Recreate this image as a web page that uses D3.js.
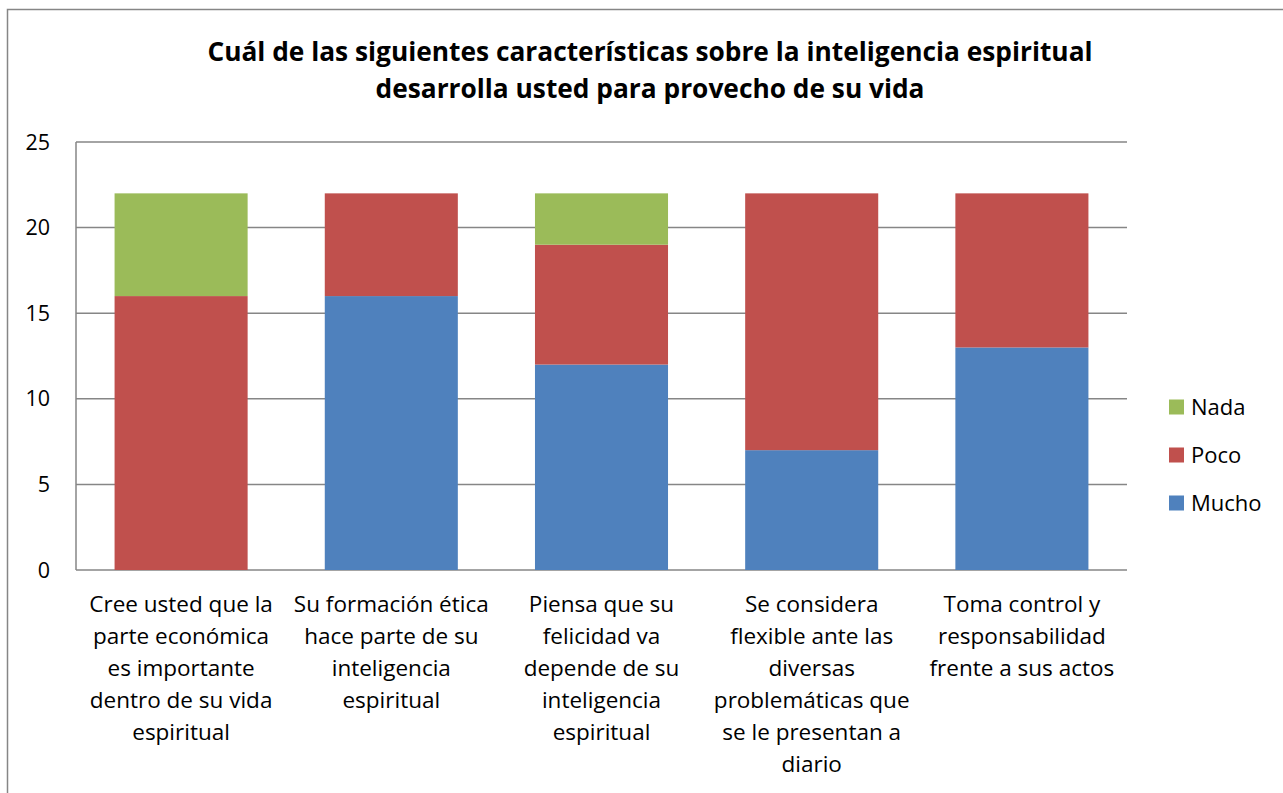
<!DOCTYPE html>
<html>
<head>
<meta charset="utf-8">
<script src="https://cdn.jsdelivr.net/npm/d3@7"></script>
<style>
  body { margin: 0; background: #fff; }
  svg { font-family: 'Open Sans', Lato, sans-serif; }
</style>
</head>
<body>
<svg width="1283" height="793"></svg>
<script>
const categories = [
  ['Cree usted que la', 'parte económica', 'es importante', 'dentro de su vida', 'espiritual'],
  ['Su formación ética', 'hace parte de su', 'inteligencia', 'espiritual'],
  ['Piensa que su', 'felicidad va', 'depende de su', 'inteligencia', 'espiritual'],
  ['Se considera', 'flexible ante las', 'diversas', 'problemáticas que', 'se le presentan a', 'diario'],
  ['Toma control y', 'responsabilidad', 'frente a sus actos']
];
const seriesNames = ['Mucho', 'Poco', 'Nada'];
const mucho = [0, 16, 12, 7, 13];
const poco = [16, 6, 7, 15, 9];
const nada = [6, 0, 3, 0, 0];
const yTicks = [0, 5, 10, 15, 20, 25];
const colors = ['#4f81bd', '#c0504d', '#9bbb59'];

const svg = d3.select('svg');
const pad = { left: 76, right: 156, top: 142, bottom: 223 };
const W = 1283, H = 793;
const fs = 22.5;

// outer frame (runs off the right/bottom edges)
svg.append('rect')
  .attr('x', 7.5).attr('y', 9.5)
  .attr('width', W).attr('height', H)
  .attr('fill', 'none').attr('stroke', '#868686').attr('stroke-width', 1.5);

const title = ['Cuál de las siguientes características sobre la inteligencia espiritual',
  'desarrolla usted para provecho de su vida'];
title.forEach((t, i) => {
  svg.append('text')
    .attr('x', 650).attr('y', 61 + i * 37)
    .attr('text-anchor', 'middle').attr('font-weight', 700).attr('font-size', 26.3)
    .text(t);
});

const x = d3.scaleBand()
  .domain(d3.range(categories.length))
  .range([pad.left, W - pad.right])
  .paddingInner(0.367).paddingOuter(0.1835);
const y = d3.scaleLinear().domain([0, 25]).range([H - pad.bottom, pad.top]);

// gridlines
svg.append('g').selectAll('line').data(yTicks).join('line')
  .attr('x1', pad.left).attr('x2', W - pad.right)
  .attr('y1', d => y(d)).attr('y2', d => y(d))
  .attr('stroke', '#868686').attr('stroke-width', 1.5);

// y axis line
svg.append('line')
  .attr('x1', pad.left).attr('x2', pad.left)
  .attr('y1', y(0)).attr('y2', y(25))
  .attr('stroke', '#868686').attr('stroke-width', 1.5);

svg.append('g').selectAll('text').data(yTicks).join('text')
  .attr('x', 50).attr('y', d => y(d) + 7.5)
  .attr('text-anchor', 'end').attr('font-size', 21.5)
  .text(d => d);

const stackData = categories.map((c, i) => ({ i, Mucho: mucho[i], Poco: poco[i], Nada: nada[i] }));
const stacked = d3.stack().keys(seriesNames)(stackData);

svg.append('g').selectAll('g').data(stacked).join('g')
  .attr('fill', (d, k) => colors[k])
  .selectAll('rect').data(d => d).join('rect')
  .attr('x', d => x(d.data.i))
  .attr('width', x.bandwidth())
  .attr('y', d => y(d[1]))
  .attr('height', d => y(d[0]) - y(d[1]));

// category labels
const lab = svg.append('g');
categories.forEach((lines, i) => {
  const t = lab.append('text')
    .attr('text-anchor', 'middle').attr('font-size', fs);
  lines.forEach((ln, j) => {
    t.append('tspan')
      .attr('x', x(i) + x.bandwidth() / 2)
      .attr('y', 612 + j * 32)
      .text(ln);
  });
});

// legend
const leg = svg.append('g');
const legOrder = [2, 1, 0];
legOrder.forEach((k, j) => {
  const cy = 407 + j * 48;
  leg.append('rect')
    .attr('x', 1169).attr('y', cy - 7.5)
    .attr('width', 15).attr('height', 15)
    .attr('fill', colors[k]);
  leg.append('text')
    .attr('x', 1191).attr('y', cy + 8)
    .attr('font-size', 22)
    .text(seriesNames[k]);
});
</script>
</body>
</html>
